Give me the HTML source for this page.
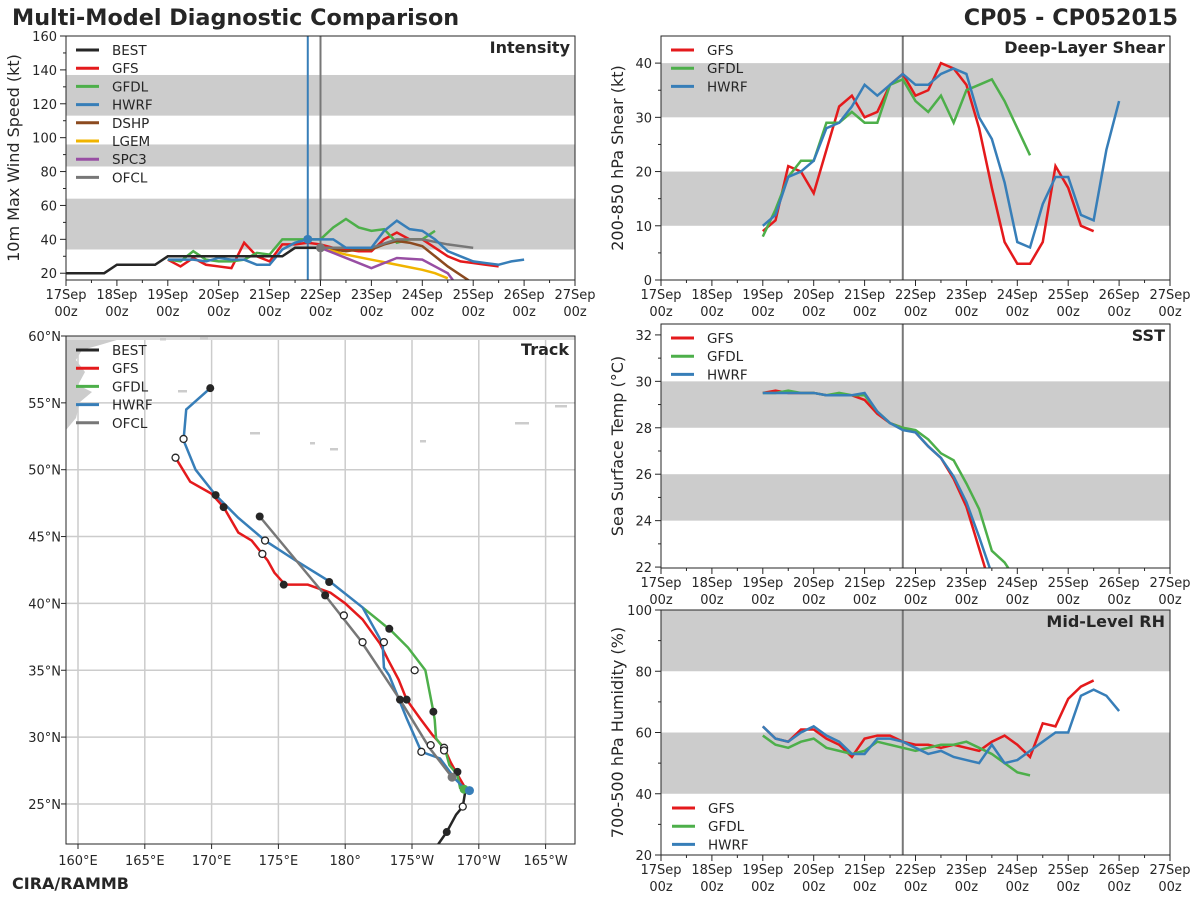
<!DOCTYPE html>
<html><head><meta charset="utf-8"><style>
body{margin:0;background:#fff;}
svg text{font-family:"DejaVu Sans","Liberation Sans",sans-serif;fill:#262626;}
</style></head><body>
<svg id="c" width="1200" height="900" xmlns="http://www.w3.org/2000/svg">
<text x="12" y="25" font-size="22.3" font-weight="bold">Multi-Model Diagnostic Comparison</text>
<text x="1178" y="25" font-size="22.3" font-weight="bold" text-anchor="end">CP05 - CP052015</text>
<text x="12" y="889" font-size="16" font-weight="bold">CIRA/RAMMB</text>
</svg>
<script>
const C={BEST:'#262626',GFS:'#e41a1c',GFDL:'#4daf4a',HWRF:'#377eb8',DSHP:'#8c4a1f',LGEM:'#f0b400',SPC3:'#984ea3',OFCL:'#777777'};
// Intensity data (days since 17Sep 00z, kt)
const bestT=[0,0.25,0.5,0.75,1,1.25,1.5,1.75,2,2.25,2.5,2.75,3,3.25,3.5,3.75,4,4.25,4.5,4.75,5];
const bestV=[20,20,20,20,25,25,25,25,30,30,30,30,30,30,30,30,30,30,35,35,35];
const gfsT=[2,2.25,2.5,2.75,3,3.25,3.5,3.75,4,4.25,4.5,4.75,5,5.25,5.5,5.75,6,6.25,6.5,6.75,7,7.25,7.5,7.75,8,8.25,8.5];
const gfsV=[28,24,29,25,24,23,38,30,27,37,37,38,37,35,34,33,33,40,44,40,40,35,30,27,26,25,24];
const gfdlT=[2,2.25,2.5,2.75,3,3.25,3.5,3.75,4,4.25,4.5,4.75,5,5.25,5.5,5.75,6,6.25,6.5,6.75,7,7.25];
const gfdlV=[28,27,33,28,27,27,28,32,31,40,40,40,40,47,52,47,45,46,38,40,40,45];
const hwrfT=[2,2.25,2.5,2.75,3,3.25,3.5,3.75,4,4.25,4.5,4.75,5,5.25,5.5,5.75,6,6.25,6.5,6.75,7,7.25,7.5,7.75,8,8.25,8.5,8.75,9];
const hwrfV=[28,28,28,27,29,28,28,25,25,34,38,40,40,40,35,35,35,45,51,46,45,40,33,30,27,26,25,27,28];
const dshpT=[5,5.25,5.5,5.75,6,6.25,6.5,6.75,7,7.25,7.5,7.75,8];
const dshpV=[35,34,33,34,34,37,39,38,36,30,24,19,14];
const lgemT=[5,5.5,6,6.5,7,7.25,7.5];
const lgemV=[35,31,28,25,22,20,17];
const spcT=[5,5.5,6,6.5,7,7.25,7.5,7.6];
const spcV=[35,29,23,29,28,24,20,16];
const ofclT=[5,5.5,6,6.5,7,7.5,8];
const ofclV=[35,35,35,40,40,37,35];
// Shear
const shT=[2,2.25,2.5,2.75,3,3.25,3.5,3.75,4,4.25,4.5,4.75,5,5.25,5.5,5.75,6,6.25,6.5,6.75,7,7.25,7.5,7.75,8,8.25,8.5,8.75,9];
const shGFS=[9,11,21,20,16,24,32,34,30,31,36,38,34,35,40,39,36,28,17,7,3,3,7,21,17,10,9];
const shGFDL=[8,13,19,22,22,29,29,31,29,29,36,37,33,31,34,29,35,36,37,33,28,23];
const shHWRF=[10,12,19,20,22,28,29,32,36,34,36,38,36,36,38,39,38,30,26,18,7,6,14,19,19,12,11,24,33];
// SST
const sstT=[2,2.25,2.5,2.75,3,3.25,3.5,3.75,4,4.25,4.5,4.75,5,5.25,5.5,5.75,6,6.25,6.5,6.75,6.9];
const sstGFS=[29.5,29.6,29.5,29.5,29.5,29.4,29.4,29.4,29.2,28.6,28.2,28.0,27.8,27.2,26.7,25.8,24.6,22.8,21.0];
const sstGFDL=[29.5,29.5,29.6,29.5,29.5,29.4,29.5,29.4,29.4,28.7,28.2,28.0,27.9,27.5,26.9,26.6,25.6,24.5,22.7,22.2,21.7];
const sstHWRF=[29.5,29.5,29.5,29.5,29.5,29.4,29.4,29.4,29.5,28.7,28.2,27.9,27.8,27.2,26.7,25.9,24.8,23.3,21.7];
// RH
const rhT=shT;
const rhGFS=[62,58,57,61,61,58,56,52,58,59,59,57,56,56,55,56,55,54,57,59,56,52,63,62,71,75,77];
const rhGFDL=[59,56,55,57,58,55,54,53,54,57,56,55,54,55,56,56,57,55,53,50,47,46];
const rhHWRF=[62,58,57,60,62,59,57,53,53,58,58,57,55,53,54,52,51,50,56,50,51,54,57,60,60,72,74,72,67];
// Track (lon east 0-360, lat)
const bestLon=[186.9,187.6,188.3,188.8,189.0]; const bestLat=[21.9,22.9,24.2,24.8,26.0];
const gfsLon=[189.1,188.4,187.9,187.4,186.5,185.6,184.6,184.0,183.2,182.6,181.3,180.0,178.9,177.2,175.5,174.7,174.2,173.8,173.0,172.0,170.9,170.0,168.4,167.3];
const gfsLat=[26.0,27.2,28.1,29.2,30.2,31.4,32.8,34.3,35.8,37.0,38.8,40.0,40.8,41.4,41.4,42.3,43.2,43.7,44.7,45.3,47.2,48.2,49.1,50.9];
const gfdlLon=[189.1,188.6,188.4,187.8,187.5,186.8,186.7,186.6,186.0,184.7,183.4,181.3];
const gfdlLat=[26.0,26.2,27.2,27.9,29.0,29.9,31.3,31.9,35.0,36.7,38.0,39.7];
const hwrfLon=[189.1,188.2,187.1,185.7,184.6,183.3,182.9,182.8,181.3,178.9,176.3,174.0,172.0,170.3,168.8,167.9,168.1,169.9];
const hwrfLat=[26.0,26.9,28.4,28.9,31.4,34.6,35.2,37.0,39.7,41.6,43.2,44.7,46.4,48.1,50.0,52.2,54.5,56.1];
const ofclLon=[188.0,186.3,184.1,181.1,178.5,173.6];
const ofclLat=[27.0,29.2,32.8,37.3,40.6,46.5];
const svg=document.getElementById('c');const NS='http://www.w3.org/2000/svg';
function el(t,a,p){const e=document.createElementNS(NS,t);for(const k in a)e.setAttribute(k,a[k]);(p||svg).appendChild(e);return e;}
const dayLabels=['17Sep','18Sep','19Sep','20Sep','21Sep','22Sep','23Sep','24Sep','25Sep','26Sep','27Sep'];
function panel(o){
 const g=el('g',{});
 
 
 const X=d=>o.x0+(o.x1-o.x0)*d/10, Y=v=>o.y1-(v-o.vmin)*(o.y1-o.y0)/(o.vmax-o.vmin);
 o.bands.forEach(b=>{const r=el('rect',{x:o.x0,y:Y(b[1]),width:o.x1-o.x0,height:Y(b[0])-Y(b[1]),fill:'#cccccc'},g);
  });
 o.vlines.forEach(v=>el('line',{x1:X(v[0]),x2:X(v[0]),y1:o.y0,y2:o.y1,stroke:v[1],'stroke-width':2},g));
 const cl='cl'+o.name;const cp=el('clipPath',{id:cl},g);el('rect',{x:o.x0,y:o.y0,width:o.x1-o.x0,height:o.y1-o.y0},cp);
 o.series.forEach(s=>{const pts=s.v.map((v,i)=>X(s.t[i])+','+Y(v)).join(' ');
  const l=el('polyline',{points:pts,fill:'none',stroke:C[s.k],'stroke-width':2.5,'clip-path':'url(#'+cl+')'},g);
  });
 (o.dots||[]).forEach(d=>el('circle',{cx:X(d[0]),cy:Y(d[1]),r:4.5,fill:d[2]},g));
 el('rect',{x:o.x0,y:o.y0,width:o.x1-o.x0,height:o.y1-o.y0,fill:'none',stroke:'#262626','stroke-width':1},g);
 for(let i=0;i<=20;i++){const x=X(i/2);el('line',{x1:x,x2:x,y1:o.y1,y2:o.y1+(i%2?3:6),stroke:'#262626'},g);}
 dayLabels.forEach((l,i)=>{const t=el('text',{x:X(i),y:o.y1+19,'font-size':13,'text-anchor':'middle'},g);t.textContent=l;
  const t2=el('text',{x:X(i),y:o.y1+36,'font-size':13,'text-anchor':'middle'},g);t2.textContent='00z';});
 o.yticks.forEach(v=>{el('line',{x1:o.x0-6,x2:o.x0,y1:Y(v),y2:Y(v),stroke:'#262626'},g);
  const t=el('text',{x:o.x0-9,y:Y(v)+5,'font-size':13,'text-anchor':'end'},g);t.textContent=v;});
 (o.minor||[]).forEach(v=>el('line',{x1:o.x0-3,x2:o.x0,y1:Y(v),y2:Y(v),stroke:'#262626'},g));
 const yl=el('text',{x:0,y:0,'font-size':16,'text-anchor':'middle',transform:`translate(${o.x0-o.yoff},${(o.y0+o.y1)/2}) rotate(-90)`},g);yl.textContent=o.ylabel;
 
 const tt=el('text',{x:o.x1-5,y:o.y0+17,'font-size':16,'font-weight':'bold','text-anchor':'end'},g);tt.textContent=o.title;
 legend(g,o.x0+10,o.y0+14,o.leg);
}
function legend(g,x,y,keys){keys.forEach((k,i)=>{const yy=y+i*18.2;
 const e=el('g',{},g);
 
 
 el('line',{x1:x,x2:x+23,y1:yy,y2:yy,stroke:C[k],'stroke-width':3},e);
 const t=el('text',{x:x+36,y:yy+5,'font-size':13.5},e);t.textContent=k;});}
const mk=(a,b)=>{const r=[];for(let v=a;v<=b;v+=10)r.push(v);return r;};
panel({name:'intensity-panel',x0:66,x1:575,y0:36,y1:280,vmin:16,vmax:160,bands:[[34,64],[83,96],[113,137]],
 vlines:[[4.75,'#377eb8'],[5,'#777777']],
 series:[{k:'GFS',t:gfsT,v:gfsV},{k:'GFDL',t:gfdlT,v:gfdlV},{k:'DSHP',t:dshpT,v:dshpV},{k:'LGEM',t:lgemT,v:lgemV},{k:'SPC3',t:spcT,v:spcV},{k:'OFCL',t:ofclT,v:ofclV},{k:'HWRF',t:hwrfT,v:hwrfV},{k:'BEST',t:bestT,v:bestV}],
 dots:[[4.75,40,'#377eb8'],[5,35,'#777777']],
 yticks:[20,40,60,80,100,120,140,160],minor:mk(30,150).filter(v=>v%20),ylabel:'10m Max Wind Speed (kt)',yoff:47,title:'Intensity',
 leg:['BEST','GFS','GFDL','HWRF','DSHP','LGEM','SPC3','OFCL']});
panel({name:'shear-panel',x0:661,x1:1170,y0:36,y1:280,vmin:0,vmax:45,bands:[[10,20],[30,40]],vlines:[[4.75,'#777777']],
 series:[{k:'GFS',t:shT,v:shGFS},{k:'GFDL',t:shT,v:shGFDL},{k:'HWRF',t:shT,v:shHWRF}],
 yticks:[0,10,20,30,40],minor:[5,15,25,35],ylabel:'200-850 hPa Shear (kt)',yoff:38,title:'Deep-Layer Shear',leg:['GFS','GFDL','HWRF']});
panel({name:'sst-panel',x0:661,x1:1170,y0:324,y1:568,vmin:21.96,vmax:32.47,bands:[[24,26],[28,30]],vlines:[[4.75,'#777777']],
 series:[{k:'GFS',t:sstT,v:sstGFS},{k:'GFDL',t:sstT,v:sstGFDL},{k:'HWRF',t:sstT,v:sstHWRF}],
 yticks:[22,24,26,28,30,32],minor:[23,25,27,29,31],ylabel:'Sea Surface Temp (°C)',yoff:38,title:'SST',leg:['GFS','GFDL','HWRF']});
panel({name:'rh-panel',x0:661,x1:1170,y0:610,y1:855,vmin:20,vmax:100,bands:[[40,60],[80,100]],vlines:[[4.75,'#777777']],
 series:[{k:'GFS',t:rhT,v:rhGFS},{k:'GFDL',t:rhT,v:rhGFDL},{k:'HWRF',t:rhT,v:rhHWRF}],
 yticks:[20,40,60,80,100],minor:[30,50,70,90],ylabel:'700-500 hPa Humidity (%)',yoff:38,title:'Mid-Level RH',leg:[]});
(function(){const g=el('g',{});['GFS','GFDL','HWRF'].forEach((k,i)=>{const yy=808+i*18.2;
 const e=el('g',{},g);
 el('line',{x1:672,x2:695,y1:yy,y2:yy,stroke:C[k],'stroke-width':3},e);const t=el('text',{x:708,y:yy+5,'font-size':13.5},e);t.textContent=k;});})();
// Track map
(function(){
 const x0=66,x1=575,y0=336,y1=844;
 const X=lon=>78+(lon-160)*13.36, Y=lat=>336+(60-lat)*13.37;
 const g=el('g',{});
 
 
 const cp=el('clipPath',{id:'trk'},g);el('rect',{x:x0,y:y0,width:x1-x0,height:y1-y0},cp);
 const m=el('g',{'clip-path':'url(#trk)'},g);
 for(let lon=160;lon<=195;lon+=5)el('line',{x1:X(lon),x2:X(lon),y1:y0,y2:y1,stroke:'#cccccc','stroke-width':1.5},m);
 for(let lat=25;lat<=60;lat+=5)el('line',{x1:x0,x2:x1,y1:Y(lat),y2:Y(lat),stroke:'#cccccc','stroke-width':1.5},m);
 const land=el('path',{d:'M66,336 L130,336 L100,345 L82,350 L76,360 L85,372 L78,385 L92,392 L80,402 L76,418 L66,430 Z',fill:'#cccccc'},m);
 
 el('path',{d:'M66,336 L575,336 L575,340 L66,340 Z',fill:'#dddddd'},m);
 [[178,390,9],[250,432,10],[330,448,8],[420,440,6],[515,422,14],[555,405,12],[160,338,6],[200,337,8],[310,442,5]].forEach(p=>el('rect',{x:p[0],y:p[1],width:p[2],height:2.5,fill:'#cccccc'},m));
 const line=(lo,la,k)=>{const l=el('polyline',{points:lo.map((v,i)=>X(v)+','+Y(la[i])).join(' '),fill:'none',stroke:C[k],'stroke-width':2.5},m);
  };
 line(gfsLon,gfsLat,'GFS');line(gfdlLon,gfdlLat,'GFDL');line(hwrfLon,hwrfLat,'HWRF');line(ofclLon,ofclLat,'OFCL');line(bestLon,bestLat,'BEST');
 const fill=[[188.4,27.4],[184.6,32.8],[175.4,41.4],[170.9,47.2],[186.6,31.9],[183.3,38.1],[178.8,41.6],[170.3,48.1],[169.9,56.1],[178.5,40.6],[173.6,46.5],[187.6,22.9],[184.1,32.8]];
 const open=[[187.4,29.2],[173.8,43.7],[167.3,50.9],[185.2,35.0],[182.9,37.1],[185.7,28.9],[167.9,52.3],[186.4,29.4],[181.3,37.1],[179.9,39.1],[174.0,44.7],[188.8,24.8],[187.4,29.0]];
 fill.forEach(p=>el('circle',{cx:X(p[0]),cy:Y(p[1]),r:4,fill:'#262626'},m));
 open.forEach(p=>el('circle',{cx:X(p[0]),cy:Y(p[1]),r:3.5,fill:'#fff',stroke:'#262626','stroke-width':1.3},m));
 el('circle',{cx:X(188.0),cy:Y(27.0),r:4.5,fill:'#777'},m);el('circle',{cx:X(188.9),cy:Y(26.1),r:4.5,fill:'#4daf4a'},m);el('circle',{cx:X(189.3),cy:Y(26.0),r:4.5,fill:'#377eb8'},m);
 el('rect',{x:x0,y:y0,width:x1-x0,height:y1-y0,fill:'none',stroke:'#262626'},g);
 const lonL=['160°E','165°E','170°E','175°E','180°','175°W','170°W','165°W'];
 lonL.forEach((l,i)=>{const x=X(160+i*5);el('line',{x1:x,x2:x,y1:y1,y2:y1+5,stroke:'#262626'},g);const t=el('text',{x:x,y:y1+21,'font-size':13,'text-anchor':'middle'},g);t.textContent=l;});
 for(let lat=25;lat<=60;lat+=5){el('line',{x1:x0-5,x2:x0,y1:Y(lat),y2:Y(lat),stroke:'#262626'},g);const t=el('text',{x:x0-5,y:Y(lat)+5,'font-size':13,'text-anchor':'end'},g);t.textContent=lat+'°N';}
 const tt=el('text',{x:x1-6,y:y0+19,'font-size':16,'font-weight':'bold','text-anchor':'end'},g);tt.textContent='Track';
 legend(g,76,y0+14,['BEST','GFS','GFDL','HWRF','OFCL']);
})();
</script>
</body></html>
